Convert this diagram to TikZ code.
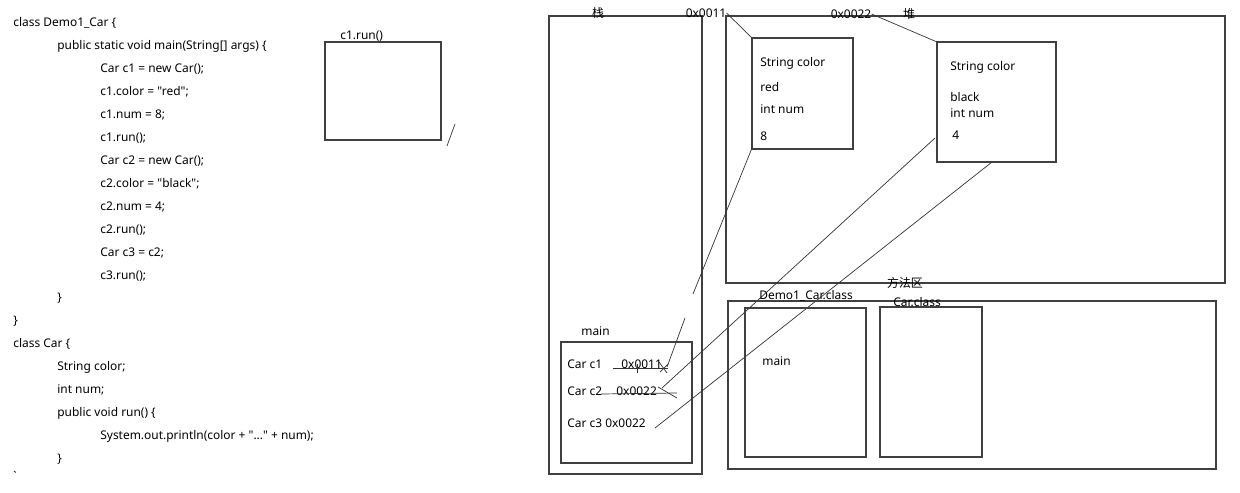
\documentclass[tikz,border=0pt]{standalone}
\usepackage{fontspec}
\setmainfont{Noto Sans}[Ligatures=TeXOff]
\newfontfamily\cjk{Noto Sans CJK SC}
\begin{document}
\begin{tikzpicture}[x=0.02cm,y=-0.02cm,
    txt/.style={anchor=west,inner sep=0pt,font=\fontsize{6.8}{9}\selectfont},
    frame/.style={draw=black!75,line width=0.6pt},
    wire/.style={draw=black!80,line width=0.4pt}]
    \useasboundingbox (0,0) rectangle (1240,493);

    % source code
    \foreach \y/\x/\t [count=\i] in {23/13/class Demo1\_Car \{,
            46/57/public static void main(String[] args) \{,
            69/100/Car c1 = new Car();, 92/100/c1.color = "red";,
            115/100/c1.num = 8;, 138/100/c1.run();,
            161/100/Car c2 = new Car();, 184/100/c2.color = "black";,
            207/100/c2.num = 4;, 230/100/c2.run();,
            253/100/Car c3 = c2;, 276/100/c3.run();,
            298/57/\}, 321/13/\}, 344/13/class Car \{,
            367/57/String color;, 390/57/int num;,
            413/57/public void run() \{,
            459/57/\}, 476/13/`}
        \node[txt] (code\i) at (\x,\y) {\t};
    \node[txt] (println) at (100,436) {System.out.println(color + "..." + num);};

    % c1.run() frame
    \coordinate (R1) at (325,42);
    \coordinate (R2) at (441,140);
    \draw[frame] (R1) rectangle (R2);
    \node[txt] (runlbl) at (340,36) {c1.run()};
    \coordinate (S1) at (455,124);
    \coordinate (S2) at (447,146);
    \draw[wire] (S1) -- (S2);

    % stack
    \coordinate (ST1) at (549,16);
    \coordinate (ST2) at (702,474);
    \draw[frame] (ST1) rectangle (ST2);
    \node[txt,anchor=center] (stacklbl) at (598,13) {\cjk 栈};

    \coordinate (M1) at (561,342);
    \coordinate (M2) at (692,463);
    \draw[frame] (M1) rectangle (M2);
    \node[txt] (mainlbl) at (581,331) {main};
    \node[txt] (varA) at (567,364) {Car c1};
    \node[txt] (adrA) at (621,364) {0x0011};
    \node[txt] (varB) at (567,391) {Car c2};
    \node[txt] (adrB) at (616,391) {0x0022};
    \node[txt] (varC) at (567,423) {Car c3 0x0022};

    % scribbles over the addresses
    \coordinate (xa1) at (613,368);
    \coordinate (xa2) at (668,368);
    \draw[wire] (xa1) -- (xa2);
    \draw[wire] (637,364) -- (637,373);
    \draw[wire] (659,362) -- (667,373);
    \draw[wire] (660,372) -- (668,364);
    \coordinate (xb1) at (601,394);
    \coordinate (xb2) at (677,393);
    \draw[wire] (xb1) -- (xb2);
    \draw[wire] (658,387) -- (677,398);

    % heap
    \coordinate (H1) at (726,16);
    \coordinate (H2) at (1225,283);
    \draw[frame] (H1) rectangle (H2);
    \node[txt,anchor=center] (heaplbl) at (909,14) {\cjk 堆};
    \node[txt,anchor=center] (hexA) at (706,13) {0x0011};
    \node[txt,anchor=center] (hexB) at (851,14) {0x0022};

    \coordinate (OA1) at (752,38);
    \coordinate (OA2) at (853,149);
    \draw[frame] (OA1) rectangle (OA2);
    \node[txt] (a1) at (760,63) {String color};
    \node[txt] (a2) at (760,87) {red};
    \node[txt] (a3) at (760,109) {int num};
    \node[txt] (a4) at (760,136) {8};

    \coordinate (OB1) at (937,42);
    \coordinate (OB2) at (1056,162);
    \draw[frame] (OB1) rectangle (OB2);
    \node[txt] (b1) at (950,67) {String color};
    \node[txt] (b2) at (950,97) {black};
    \node[txt] (b3) at (950,113) {int num};
    \node[txt] (b4) at (952,135) {4};

    % references
    \draw[wire] (hexA.east) -- (OA1);
    \draw[wire] (hexB.east) -- (OB1);
    \coordinate (pA1) at (667,367);
    \coordinate (pA2) at (685,318);
    \coordinate (pA3) at (693,294);
    \coordinate (pA4) at (752,148);
    \draw[wire] (pA1) -- (pA2);
    \draw[wire] (pA3) -- (pA4);
    \coordinate (pB1) at (662,388);
    \coordinate (pB2) at (935,138);
    \draw[wire] (pB1) -- (pB2);
    \coordinate (pC1) at (655,428);
    \coordinate (pC2) at (992,162);
    \draw[wire] (pC1) -- (pC2);

    % method area
    \coordinate (MA1) at (728,301);
    \coordinate (MA2) at (1216,469);
    \draw[frame] (MA1) rectangle (MA2);
    \node[txt,anchor=center] (methlbl) at (905,283) {\cjk 方法区};
    \coordinate (D1) at (745,308);
    \coordinate (D2) at (866,457);
    \draw[frame] (D1) rectangle (D2);
    \node[txt] (demolbl) at (759,296) {Demo1\_Car.class};
    \node[txt] (dmain) at (762,361) {main};
    \coordinate (C1) at (880,307);
    \coordinate (C2) at (982,457);
    \draw[frame] (C1) rectangle (C2);
    \node[txt] (carlbl) at (893,302) {Car.class};
\end{tikzpicture}
\end{document}
